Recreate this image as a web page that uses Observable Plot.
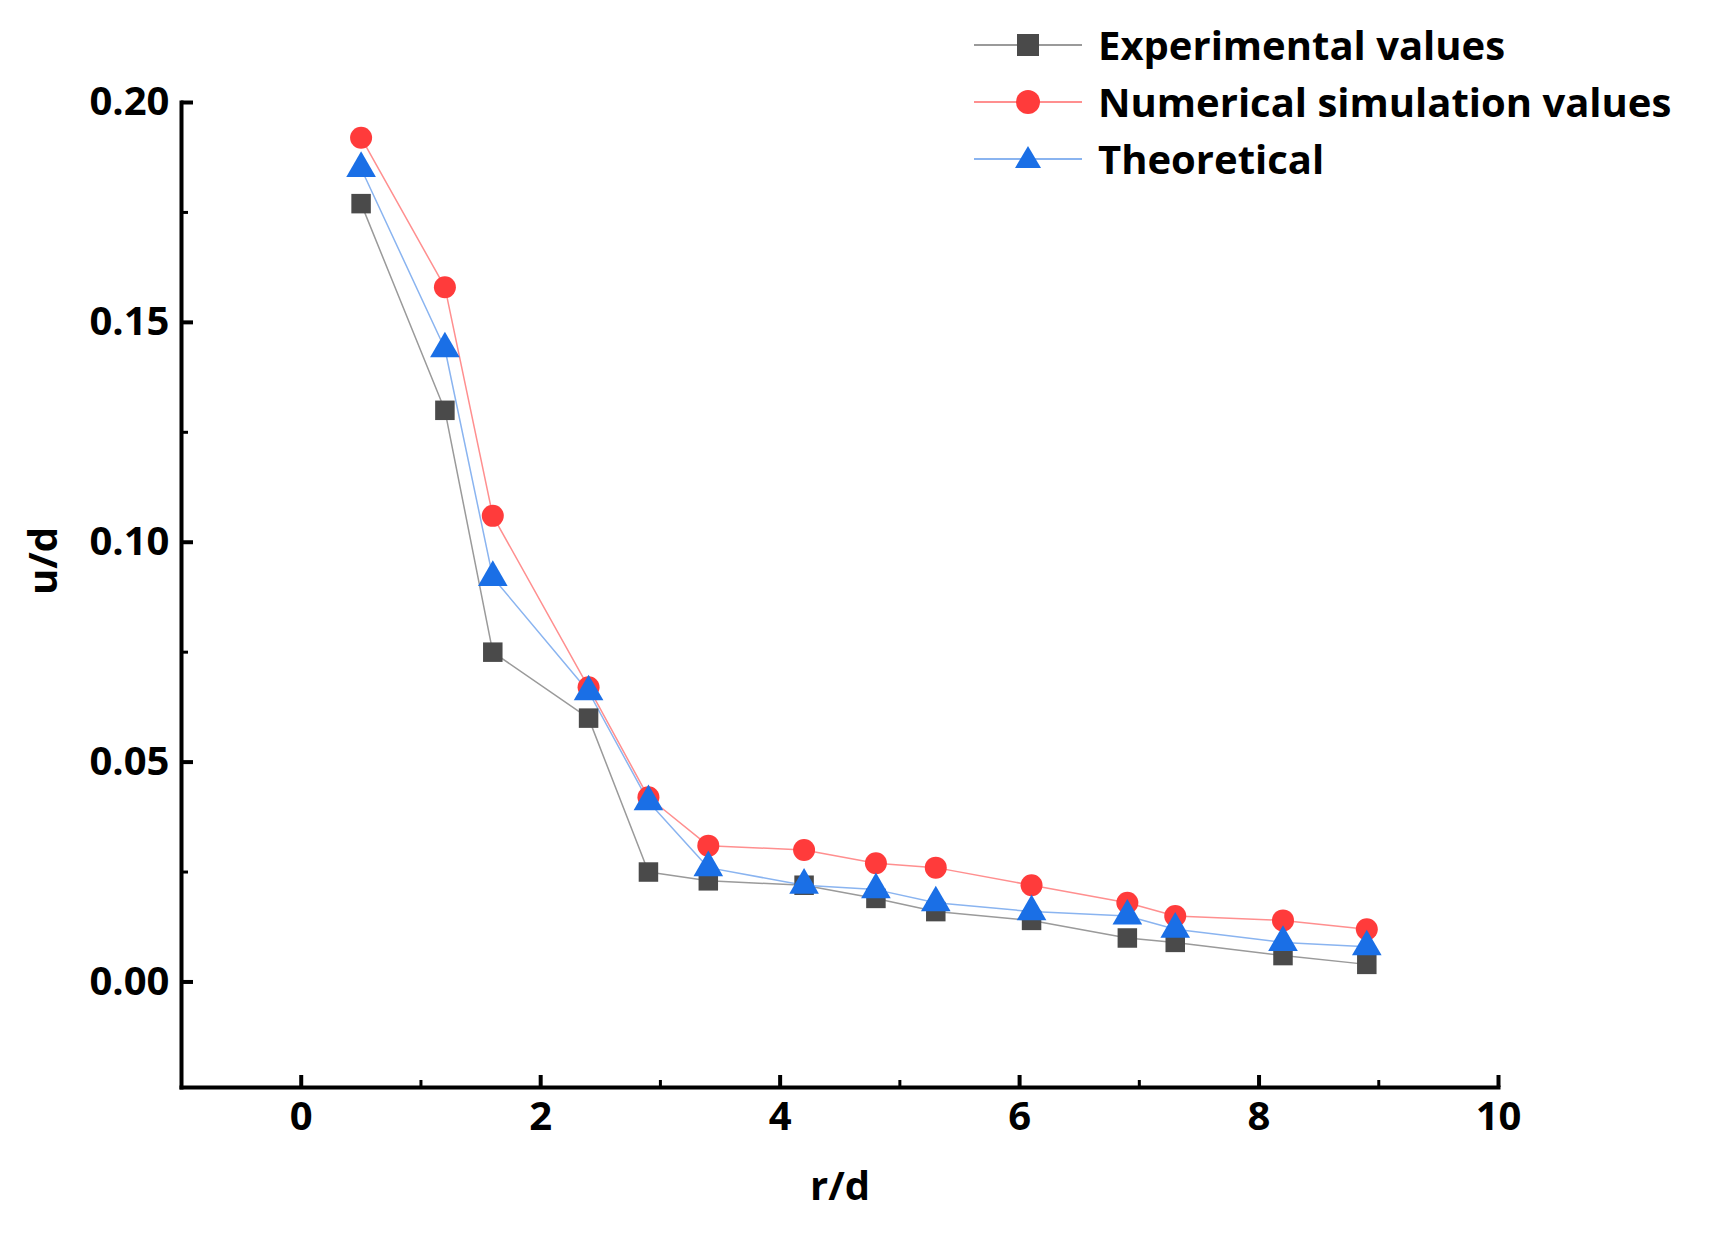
<!DOCTYPE html>
<html><head><meta charset="utf-8">
<script src="https://cdn.jsdelivr.net/npm/d3@7"></script>
<script src="https://cdn.jsdelivr.net/npm/@observablehq/plot@0.6"></script>
<style>
body{margin:0;background:#fff;font-family:"Open Sans",sans-serif;}
#wrap{position:relative;width:1717px;height:1233px;}
#legend{position:absolute;left:972px;top:16px;font-weight:bold;font-size:40px;line-height:57px;}
#legend div{display:flex;align-items:center;}
#legend svg{margin-right:14px;}
</style></head><body>
<div id="wrap"><div id="chart"></div><div id="legend"></div></div>
<script>
const rd = [0.5,1.2,1.6,2.4,2.9,3.4,4.2,4.8,5.3,6.1,6.9,7.3,8.2,8.9];
const experimental = [0.177,0.130,0.075,0.060,0.025,0.023,0.022,0.019,0.016,0.014,0.010,0.009,0.006,0.004];
const numerical = [0.192,0.158,0.106,0.067,0.042,0.031,0.030,0.027,0.026,0.022,0.018,0.015,0.014,0.012];
const theoretical = [0.185,0.144,0.092,0.066,0.041,0.026,0.022,0.021,0.018,0.016,0.015,0.012,0.009,0.008];
const seriesNames = ["Experimental values","Numerical simulation values","Theoretical"];
const xTicks = [0,2,4,6,8,10];
const xMinor = [1,3,5,7,9];
const yTicks = [0,0.05,0.10,0.15,0.20];
const yMinor = [0.025,0.075,0.125,0.175];

const styles = [
  {vals:experimental, line:"#9a9a9a", fill:"#4a4a4a", symbol:"square", r:11},
  {vals:numerical, line:"#ff8f8f", fill:"#ff3b3b", symbol:"circle", r:11},
  {vals:theoretical, line:"#8ab4f0", fill:"#1a6fe6", symbol:"triangle", r:11}
];
const marks = [];
styles.forEach((s,i)=>{
  const data = rd.map((x,j)=>({x, y:s.vals[j]}));
  marks.push(Plot.line(data,{x:"x",y:"y",stroke:s.line,strokeWidth:1.5}));
});
styles.forEach((s,i)=>{
  const data = rd.map((x,j)=>({x, y:s.vals[j]}));
  marks.push(Plot.dot(data,{x:"x",y:"y",symbol:()=>s.symbol,fill:s.fill,r:s.r}));
});
marks.push(
  Plot.axisX({ticks:xTicks,tickSize:-12,tickPadding:26,tickFormat:d=>d,strokeWidth:4,fontSize:40,fontWeight:"bold",label:null}),
  Plot.axisX({ticks:xMinor,tickSize:-7,tickFormat:()=>"",strokeWidth:3,label:null}),
  Plot.axisY({ticks:yTicks,tickSize:-12,tickPadding:24,tickFormat:d3.format(".2f"),strokeWidth:4,fontSize:40,fontWeight:"bold",label:null}),
  Plot.axisY({ticks:yMinor,tickSize:-7,tickFormat:()=>"",strokeWidth:3,label:null}),
  Plot.frame({anchor:"bottom",strokeWidth:4,stroke:"black"}),
  Plot.frame({anchor:"left",strokeWidth:4,stroke:"black"}),
  Plot.text(["r/d"],{frameAnchor:"bottom",dy:112,fontSize:40,fontWeight:"bold",fill:"black"}),
  Plot.text(["u/d"],{frameAnchor:"left",dx:-137,rotate:-90,fontSize:40,fontWeight:"bold",fill:"black"})
);
const chart = Plot.plot({
  width:1717,height:1233,
  marginLeft:181,marginRight:219,marginTop:102,marginBottom:146,
  style:{fontFamily:"'Open Sans',sans-serif",color:"black",overflow:"visible"},
  x:{domain:[-1,10]},
  y:{domain:[-0.024,0.20]},
  marks
});
document.getElementById("chart").appendChild(chart);
const lg = document.getElementById("legend");
styles.forEach((s,i)=>{
  const d = document.createElement("div");
  let shape;
  if(s.symbol==="square") shape=`<rect x="45" y="17" width="22" height="22" fill="${s.fill}"/>`;
  else if(s.symbol==="circle") shape=`<circle cx="56" cy="28" r="12" fill="${s.fill}"/>`;
  else shape=`<polygon points="56,15 69,37 43,37" fill="${s.fill}"/>`;
  d.innerHTML=`<svg width="112" height="56"><line x1="2" x2="110" y1="28" y2="28" stroke="${s.line}" stroke-width="2"/>${shape}</svg><span>${seriesNames[i]}</span>`;
  lg.appendChild(d);
});
</script></body></html>
